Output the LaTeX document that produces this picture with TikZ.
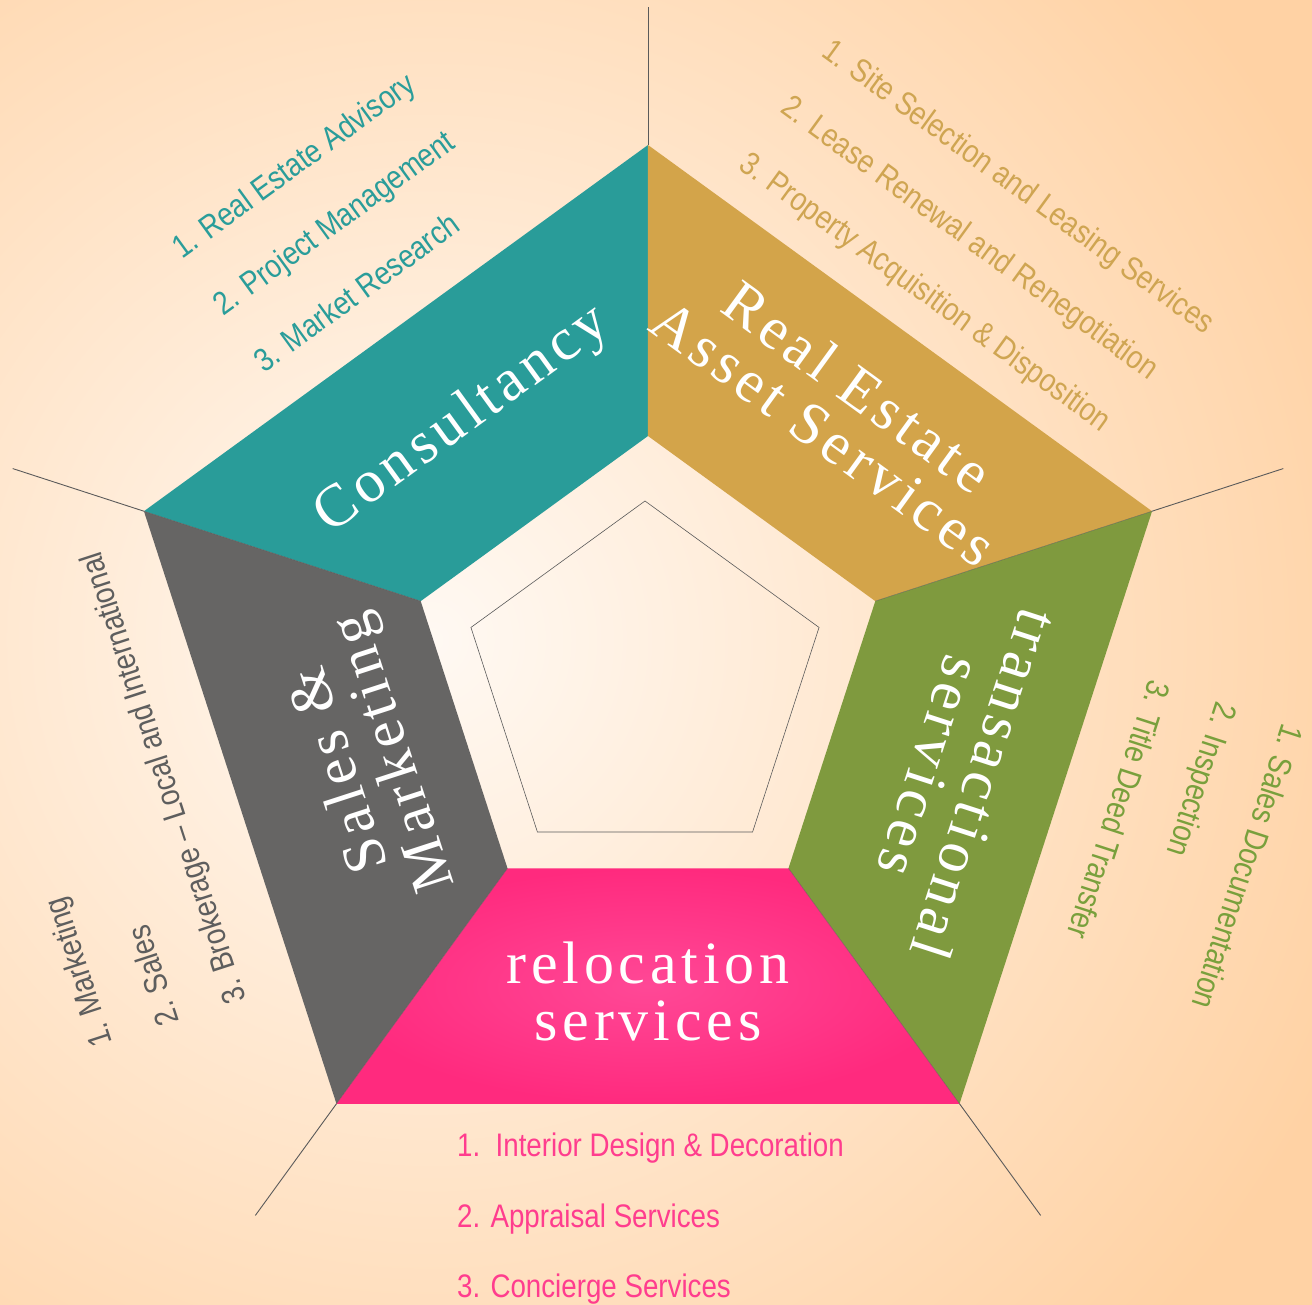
\documentclass[tikz,border=0pt]{standalone}
\usepackage{fontspec}
\setmainfont{Liberation Serif}
\newfontfamily\headfont[LetterSpace=8]{Liberation Serif}
\newfontfamily\listfont[FakeStretch=0.85]{Liberation Sans}
\usetikzlibrary{shapes.geometric}
\definecolor{bginner}{HTML}{FFF9F3}
\definecolor{bgouter}{HTML}{FFD2A4}
\definecolor{consultteal}{HTML}{299C99}
\definecolor{reasgold}{HTML}{D3A44A}
\definecolor{transgreen}{HTML}{7F9A3E}
\definecolor{relpinkin}{HTML}{FF4896}
\definecolor{relpinkout}{HTML}{FF2A7E}
\definecolor{salesgray}{HTML}{666564}
\definecolor{tealtext}{HTML}{2A9D9A}
\definecolor{goldtext}{HTML}{CFA552}
\definecolor{greentext}{HTML}{79A03C}
\definecolor{graytext}{HTML}{5E5E5E}
\definecolor{pinktext}{HTML}{FF3D8E}
\definecolor{spokegray}{HTML}{5A5A5A}
\begin{document}
\begin{tikzpicture}[x=1pt, y=1pt,
	headtext/.style={text=white, font=\headfont\fontsize{60}{57}\selectfont, align=center},
	listtext/.style={font=\listfont\fontsize{32.6}{40}\selectfont, inner sep=0pt, anchor=base west},
	spoke/.style={draw=spokegray, line width=0.9pt},
	seam/.style={draw=spokegray, line width=0.6pt, opacity=0.6}]
	\newcommand{\segFill}[3]{
		% fills one band of the ring
		% args:
		%     first corner index
		%     second corner index
		%     fill options
		\fill[#3] (in#1) -- (out#1) -- (out#2) -- (in#2) -- cycle;
	}
	\newcommand{\servList}[7]{
		% three numbered lines, left aligned
		% args:
		%     name
		%     start of first line (baseline, left)
		%     angle
		%     colour
		%     line 1, line 2, line 3
		\begin{scope}[shift={#2}, rotate=#3]
			\node[listtext, text=#4, rotate=#3] (#1-1) at (0,0) {#5};
			\node[listtext, text=#4, rotate=#3] (#1-2) at (0,-70) {#6};
			\node[listtext, text=#4, rotate=#3] (#1-3) at (0,-140) {#7};
		\end{scope}
	}
	% background
	\begin{scope}
		\clip (-648,-630) rectangle (664,675);
		\shade[inner color=bginner, outer color=bgouter] (-1218,-965) rectangle (782,1035);
	\end{scope}
	\useasboundingbox (-648,-630) rectangle (664,675);
	% corners of the ring
	\foreach \i/\a in {1/90, 2/18, 3/-54, 4/-126, 5/-198} {
		\coordinate (in\i) at (\a:239);
		\coordinate (out\i) at (\a:530);
		\coordinate (end\i) at (\a:668);
	}
	% bands
	\segFill{1}{5}{consultteal}
	\segFill{1}{2}{reasgold}
	\segFill{2}{3}{transgreen}
	\segFill{4}{5}{salesgray}
	\shade[inner color=relpinkin, outer color=relpinkout] (in3) -- (out3) -- (out4) -- (in4) -- cycle;
	% seams and spokes
	\foreach \i in {2,...,5} {
		\draw[seam] (in\i) -- (out\i);
	}
	\foreach \i in {1,...,5} {
		\draw[spoke] (out\i) -- (end\i);
	}
	% middle
	\node[regular polygon, regular polygon sides=5, minimum size=366pt, inner sep=0pt,
		draw=spokegray, line width=0.6pt] (core) at (-3,-9) {};
	% band titles
	\node[headtext, rotate=36] (consult) at (126:315) {Consultancy};
	\node[headtext, rotate=-36] (reas) at (54:328) {Real Estate\\Asset Services};
	\node[headtext, rotate=-108] (trans) at (-18:326) {transactional\\services};
	\node[headtext] (reloc) at (-90:316) {relocation\\services};
	\node[headtext, rotate=108] (salesmk) at (197:292) {Sales \&\\Marketing};
	% service lists
	\servList{consultlist}{(-466,415)}{36}{tealtext}
		{1. Real Estate Advisory}{2. Project Management}{3. Market Research}
	\servList{reaslist}{(172,620)}{-36}{goldtext}
		{1. Site Selection and Leasing Services}{2. Lease Renewal and Renegotiation}{3. Property Acquisition \& Disposition}
	\servList{translist}{(635,-47)}{-108}{greentext}
		{1. Sales Documentation}{2. Inspection}{3. Title Deed Transfer}
	\servList{relolist}{(-191,-482)}{0}{pinktext}
		{1.\ \ Interior Design \& Decoration}{2. Appraisal Services}{3. Concierge Services}
	\servList{saleslist}{(-535,-368)}{108}{graytext}
		{1. Marketing}{2. Sales}{3. Brokerage \textendash\ Local and International}
\end{tikzpicture}
\end{document}
